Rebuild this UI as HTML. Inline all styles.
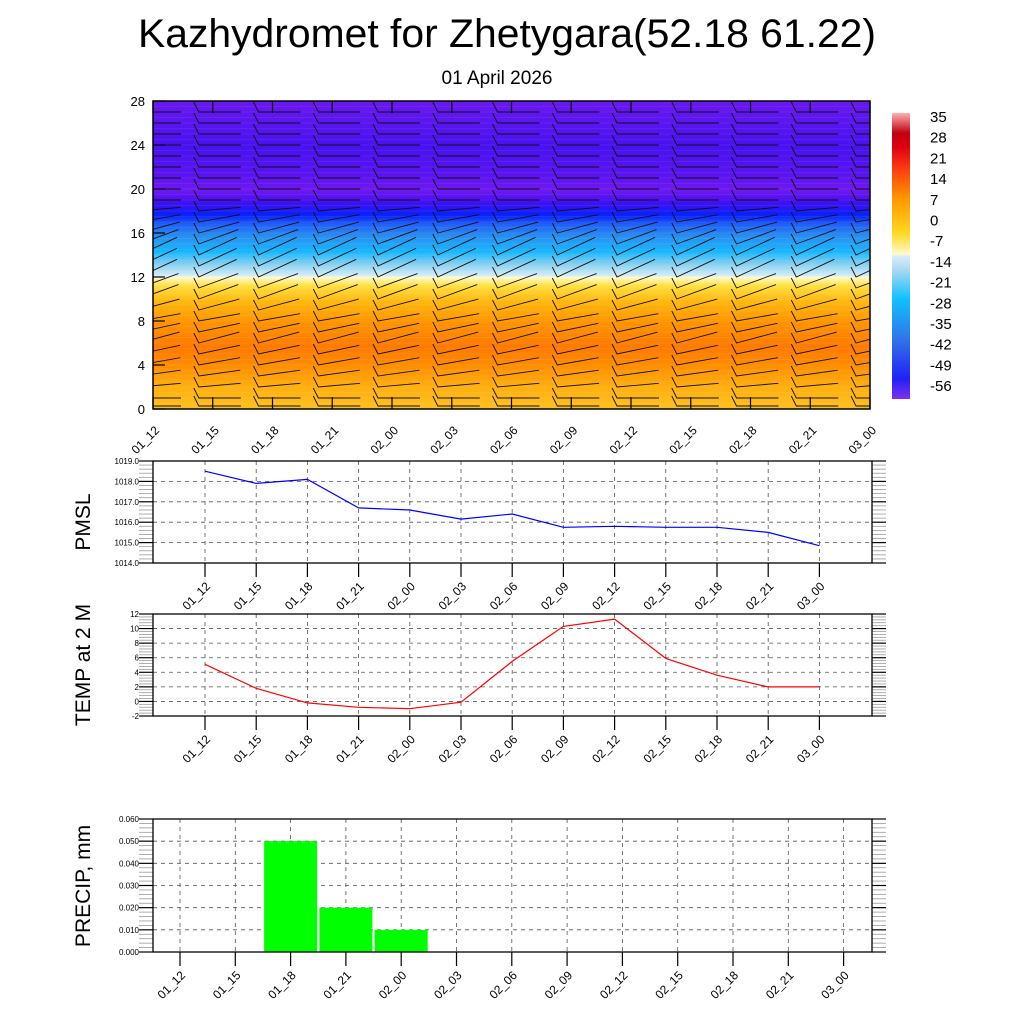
<!DOCTYPE html>
<html><head><meta charset="utf-8"><style>
html,body{margin:0;padding:0;background:#fff;}
svg{display:block;font-family:"Liberation Sans",sans-serif;}
</style></head><body>
<svg id="chart" width="1024" height="1024" viewBox="0 0 1024 1024" xmlns="http://www.w3.org/2000/svg">
<defs>
<clipPath id="topclip"><rect x="153" y="101" width="717" height="308"/></clipPath>
<linearGradient id="tgrad" x1="0" y1="1" x2="0" y2="0">
<stop offset="0" stop-color="#fdc020"/>
<stop offset="0.07" stop-color="#ffb010"/>
<stop offset="0.15" stop-color="#ff8a00"/>
<stop offset="0.2" stop-color="#ff7a00"/>
<stop offset="0.28" stop-color="#ff9400"/>
<stop offset="0.35" stop-color="#ffb810"/>
<stop offset="0.40" stop-color="#ffe040"/>
<stop offset="0.428" stop-color="#fffad0"/>
<stop offset="0.432" stop-color="#d6eef8"/>
<stop offset="0.47" stop-color="#88d0f0"/>
<stop offset="0.51" stop-color="#18b8ff"/>
<stop offset="0.56" stop-color="#2890f0"/>
<stop offset="0.6" stop-color="#2060f8"/>
<stop offset="0.63" stop-color="#0820ff"/>
<stop offset="0.67" stop-color="#4010f0"/>
<stop offset="0.71" stop-color="#7018f0"/>
<stop offset="0.76" stop-color="#5a14f0"/>
<stop offset="0.85" stop-color="#4812f0"/>
<stop offset="1" stop-color="#6a18f0"/>
</linearGradient>
<linearGradient id="cbgrad" x1="0" y1="1" x2="0" y2="0">
<stop offset="0" stop-color="#8030f0"/>
<stop offset="0.07" stop-color="#2020f8"/>
<stop offset="0.2" stop-color="#3070e8"/>
<stop offset="0.35" stop-color="#10c0ff"/>
<stop offset="0.45" stop-color="#a8d8f0"/>
<stop offset="0.5" stop-color="#d8eef8"/>
<stop offset="0.505" stop-color="#fffad0"/>
<stop offset="0.58" stop-color="#ffd820"/>
<stop offset="0.7" stop-color="#ff9800"/>
<stop offset="0.8" stop-color="#ff4010"/>
<stop offset="0.88" stop-color="#e00010"/>
<stop offset="0.93" stop-color="#c00010"/>
<stop offset="1" stop-color="#ffb0b0"/>
</linearGradient>
</defs>
<text x="507" y="47" font-size="40" text-anchor="middle" textLength="738" lengthAdjust="spacingAndGlyphs">Kazhydromet for Zhetygara(52.18 61.22)</text>
<text x="497" y="84" font-size="19" text-anchor="middle">01 April 2026</text>
<g id="top"></g>
<g id="cbar"></g>
<g id="pmsl"></g>
<g id="temp"></g>
<g id="precip"></g>
</svg>
<script>
const timeLabels=["01_12","01_15","01_18","01_21","02_00","02_03","02_06","02_09","02_12","02_15","02_18","02_21","03_00"];
const pmslValues=[1018.5,1017.9,1018.1,1016.7,1016.6,1016.15,1016.4,1015.75,1015.8,1015.75,1015.75,1015.5,1014.85];
const tempValues=[5.1,1.8,-0.2,-0.8,-1.0,-0.1,5.5,10.3,11.3,5.9,3.6,2.0,2.0];
const precipValues=[0,0,0.05,0.02,0.01,0,0,0,0,0,0,0,0];
const topYTicks=[0,4,8,12,16,20,24,28];
const pmslTicks=[1014,1015,1016,1017,1018,1019];
const tempTicks=[-2,0,2,4,6,8,10,12];
const precipTicks=[0,0.01,0.02,0.03,0.04,0.05,0.06];
const cbarLabels=["35","28","21","14","7","0","-7","-14","-21","-28","-35","-42","-49","-56"];
const windLevels=[0,1,2,3,4,5,6,7,8,9,10,11,12,13,14,15,16,17,18,19,20,21,22,23,24,25,26,27];
const windAngles=[0,0,-5,-8,-10,-12,-15,-12,-10,-15,-20,-20,-25,-25,-25,-20,-15,-10,-5,0,0,0,0,0,0,0,0,0];

const NS="http://www.w3.org/2000/svg";
function mk(parent,tag,attrs,text){const e=document.createElementNS(NS,tag);for(const k in attrs)e.setAttribute(k,attrs[k]);if(text!==undefined)e.textContent=text;parent.appendChild(e);return e;}

// ---------- top panel ----------
(function(){
const g=document.getElementById('top');
const L=153,R=870,T=101,B=409;
const xs=i=>L+(R-L)*i/(timeLabels.length-1);
const ys=v=>B-(B-T)*v/28;
const bg=mk(g,'rect',{x:L,y:T,width:R-L,height:B-T,fill:'url(#tgrad)'});


const cg=mk(g,'g',{'clip-path':'url(#topclip)'});
for(let v=0.5;v<28;v+=0.5){mk(cg,'line',{x1:L,x2:R,y1:ys(v),y2:ys(v),stroke:'#fff','stroke-opacity':0.12,'stroke-width':0.6});}
timeLabels.forEach((t,i)=>{
 windLevels.forEach((lv,j)=>{
  const x=xs(i), y=ys(lv)+(lv===0?-3:0);
  const a=windAngles[j]*Math.PI/180;
  const len=42;
  const x0=x-14, y0=y;
  const x1=x0+len*Math.cos(a), y1=y0+len*Math.sin(a);
  const b=mk(cg,'path',{d:`M${x1.toFixed(1)},${y1.toFixed(1)}L${x0.toFixed(1)},${y0.toFixed(1)}L${(x0-5).toFixed(1)},${(y0-10).toFixed(1)}`,fill:'none',stroke:'#111','stroke-width':0.9});
  
  
 });
});
mk(g,'rect',{x:L,y:T,width:R-L,height:B-T,fill:'none',stroke:'#000','stroke-width':1.5});
topYTicks.forEach(v=>{
 mk(g,'line',{x1:L,x2:L+12,y1:ys(v),y2:ys(v),stroke:'#000','stroke-width':1.2});
 const tx=mk(g,'text',{x:L-8,y:ys(v)+5,'font-size':13,'text-anchor':'end'},String(v));
 
 
});
timeLabels.forEach((t,i)=>{
 mk(g,'line',{x1:xs(i),x2:xs(i),y1:B,y2:B-12,stroke:'#000','stroke-width':1.2});
 mk(g,'line',{x1:xs(i),x2:xs(i),y1:T,y2:T+12,stroke:'#000','stroke-width':1.2});
 const tx=mk(g,'text',{x:xs(i)+7,y:B+22,'font-size':12,'text-anchor':'end',transform:`rotate(-45 ${xs(i)+7} ${B+22})`},t);
 
 
});
})();

// ---------- colorbar ----------
(function(){
const g=document.getElementById('cbar');
const r=mk(g,'rect',{x:892,y:113,width:18,height:286,fill:'url(#cbgrad)'});


cbarLabels.forEach((s,i)=>{
 const tx=mk(g,'text',{x:930,y:122+i*20.7,'font-size':15},s);
 
 
});
})();

// ---------- line/bar panels ----------
function panel(id,cfg){
 const g=document.getElementById(id);
 const {L,R,T,B,min,max,ticks,fmt,x0,step,title,titleY}=cfg;
 const ys=v=>B-(B-T)*(v-min)/(max-min);
 const xs=i=>x0+step*i;
 ticks.forEach(v=>{ if(v>min&&v<max) mk(g,'line',{x1:L,x2:R,y1:ys(v),y2:ys(v),stroke:'#555','stroke-width':0.8,'stroke-dasharray':'4,4'});});
 timeLabels.forEach((t,i)=>mk(g,'line',{x1:xs(i),x2:xs(i),y1:T,y2:B,stroke:'#555','stroke-width':0.8,'stroke-dasharray':'4,4'}));
 const n=(ticks.length-1)*5;
 for(let k=0;k<=n;k++){const y=B-(B-T)*k/n;const major=k%5===0;
  mk(g,'line',{x1:L-14,x2:L,y1:y,y2:y,stroke:major?'#000':'#999','stroke-width':major?1.2:0.8});
  mk(g,'line',{x1:R,x2:R+14,y1:y,y2:y,stroke:major?'#000':'#999','stroke-width':major?1.2:0.8});
 }
 cfg.draw(g,xs,ys);
 mk(g,'rect',{x:L,y:T,width:R-L,height:B-T,fill:'none',stroke:'#000','stroke-width':1.3});
 ticks.forEach(v=>{const tx=mk(g,'text',{x:L-14,y:ys(v)+3,'font-size':8,'text-anchor':'end'},fmt(v));
  
  });
 timeLabels.forEach((t,i)=>{
  mk(g,'line',{x1:xs(i),x2:xs(i),y1:B,y2:B+14,stroke:'#000','stroke-width':1.2});
  const tx=mk(g,'text',{x:xs(i)+6,y:B+24,'font-size':12,'text-anchor':'end',transform:`rotate(-45 ${xs(i)+6} ${B+24})`},t);
  
  
 });
 const tt=mk(g,'text',{x:0,y:0,'font-size':21,'text-anchor':'middle',transform:`translate(90 ${titleY}) rotate(-90)`},title);
 
 
}
function linePath(vals,xs,ys){return vals.map((v,i)=>(i?'L':'M')+xs(i).toFixed(1)+','+ys(v).toFixed(1)).join('');}

panel('pmsl',{L:153,R:872,T:461,B:563,min:1014,max:1019,ticks:pmslTicks,fmt:v=>v.toFixed(1),x0:205,step:51.2,title:'PMSL',titleY:522,
 draw:(g,xs,ys)=>{const p=mk(g,'path',{d:linePath(pmslValues,xs,ys),fill:'none',stroke:'#0000ff','stroke-width':1.2});
  
  }});
panel('temp',{L:153,R:872,T:614,B:716,min:-2,max:12,ticks:tempTicks,fmt:v=>String(v),x0:205,step:51.2,title:'TEMP at 2 M',titleY:665,
 draw:(g,xs,ys)=>{const p=mk(g,'path',{d:linePath(tempValues,xs,ys),fill:'none',stroke:'#ff0000','stroke-width':1.2});
  
  }});
panel('precip',{L:153,R:872,T:819,B:952,min:0,max:0.06,ticks:precipTicks,fmt:v=>v.toFixed(3),x0:180,step:55.3,title:'PRECIP, mm',titleY:886,
 draw:(g,xs,ys)=>{precipValues.forEach((v,i)=>{ if(v<=0) return;
  const r=mk(g,'rect',{x:xs(i)-26.5,y:ys(v),width:53,height:ys(0)-ys(v),fill:'#00ff00'});
  
  });}});
</script>
</body></html>
